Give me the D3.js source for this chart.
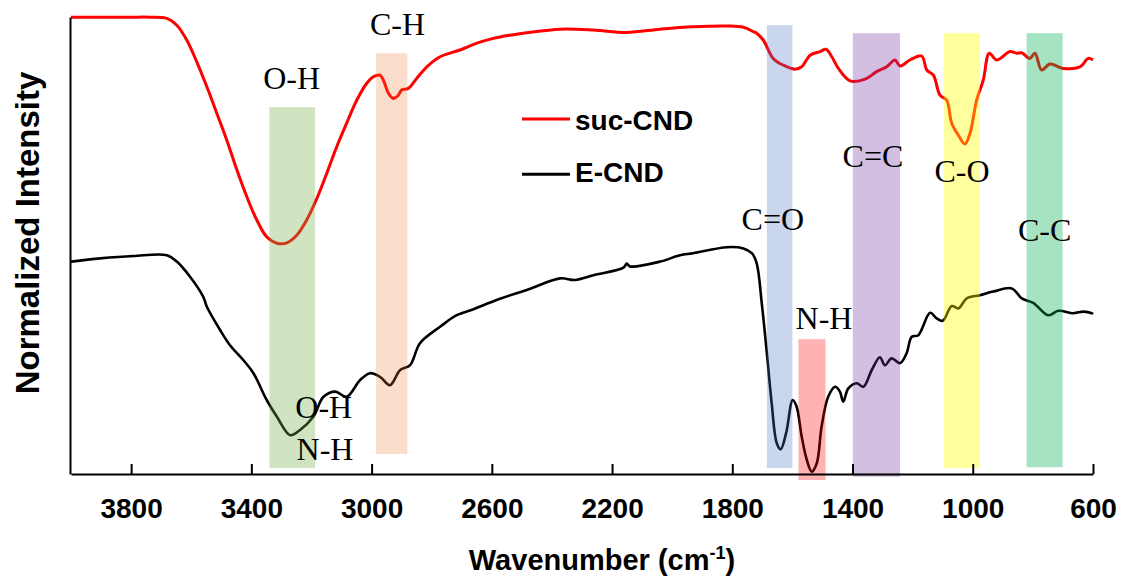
<!DOCTYPE html>
<html>
<head>
<meta charset="utf-8">
<script src="https://cdn.jsdelivr.net/npm/d3@7"></script>
<style>
  html, body { margin: 0; padding: 0; background: #ffffff; }
  svg { display: block; }
</style>
</head>
<body>
<svg id="chart" width="1124" height="577"></svg>
<script>
// FTIR spectra: wavenumber (cm-1) and normalized intensity (a.u.)
const sucWavenumber = [4000, 3903, 3803, 3737, 3681, 3648, 3615, 3582, 3548, 3515, 3482, 3448, 3415, 3382, 3349, 3315, 3282, 3249, 3216, 3182, 3149, 3116, 3083, 3049, 3016, 2994, 2972, 2961, 2944, 2928, 2911, 2900, 2878, 2850, 2816, 2772, 2706, 2650, 2595, 2539, 2484, 2373, 2262, 2151, 2040, 1930, 1818, 1763, 1730, 1719, 1697, 1664, 1630, 1591, 1569, 1541, 1508, 1488, 1469, 1447, 1408, 1358, 1320, 1286, 1259, 1242, 1209, 1170, 1153, 1131, 1109, 1087, 1070, 1048, 1026, 1009, 987, 965, 945, 920, 876, 854, 837, 810, 793, 771, 743, 699, 643, 616, 600];
const sucIntensity = [114.2, 114.2, 114.2, 114.2, 113.9, 112.2, 108.5, 103.1, 96.8, 90.2, 83.5, 76.0, 69.3, 63.5, 59.3, 57.7, 57.8, 59.7, 63.5, 68.9, 75.2, 81.8, 87.7, 93.5, 97.7, 99.3, 99.7, 98.5, 95.2, 93.9, 94.7, 96.0, 96.4, 98.9, 101.8, 104.3, 106.0, 107.7, 108.9, 109.7, 110.3, 111.2, 111.0, 110.4, 111.2, 111.8, 112.0, 111.7, 110.6, 110.2, 108.5, 103.9, 102.2, 101.2, 101.8, 104.7, 105.6, 106.2, 104.3, 101.4, 98.3, 98.7, 100.6, 101.8, 103.5, 102.0, 103.5, 104.5, 101.0, 99.7, 94.7, 93.5, 87.7, 84.7, 82.5, 85.2, 93.5, 98.5, 105.2, 103.5, 105.6, 105.2, 105.3, 103.9, 105.2, 101.0, 102.5, 101.4, 101.8, 103.9, 103.5];

const eWavenumber = [4000, 3903, 3792, 3681, 3648, 3604, 3560, 3548, 3504, 3471, 3427, 3393, 3349, 3315, 3271, 3238, 3194, 3160, 3121, 3083, 3038, 3005, 2972, 2939, 2905, 2872, 2839, 2772, 2717, 2661, 2584, 2484, 2373, 2323, 2262, 2162, 2151, 2140, 2040, 1974, 1930, 1818, 1763, 1735, 1719, 1702, 1685, 1669, 1652, 1639, 1621, 1599, 1586, 1569, 1552, 1536, 1519, 1503, 1481, 1458, 1442, 1431, 1414, 1386, 1364, 1336, 1309, 1292, 1270, 1242, 1220, 1203, 1181, 1142, 1120, 1100, 1070, 1048, 1020, 976, 932, 870, 837, 799, 749, 715, 666, 632, 604, 600];
const eIntensity = [53.1, 53.9, 54.5, 54.7, 53.1, 49.3, 44.3, 41.8, 36.0, 32.2, 28.5, 25.2, 18.5, 14.3, 9.7, 11.0, 14.3, 19.3, 20.6, 19.3, 23.5, 25.2, 24.3, 22.2, 26.0, 27.2, 32.7, 36.8, 39.7, 41.2, 43.5, 46.0, 48.9, 48.5, 49.7, 51.6, 52.6, 51.9, 53.1, 54.7, 55.2, 56.7, 56.4, 55.2, 52.7, 42.7, 30.2, 17.7, 7.7, 6.2, 10.2, 18.5, 16.8, 9.3, 3.5, 0.6, 2.7, 11.8, 19.3, 21.8, 20.6, 18.1, 21.4, 22.7, 21.8, 26.0, 29.2, 27.2, 28.9, 27.7, 30.2, 34.3, 34.7, 40.3, 38.9, 38.3, 42.0, 41.4, 43.9, 44.7, 45.6, 46.4, 43.9, 42.8, 39.7, 40.8, 40.2, 40.6, 40.2, 40.0];

const seriesNames = ["suc-CND", "E-CND"];
const seriesColors = ["#ff0000", "#000000"];

const xTickValues = [3800, 3400, 3000, 2600, 2200, 1800, 1400, 1000, 600];

// Assigned band regions: wavenumber span and intensity span
const bandLabels = ["O-H", "C-H", "C=O", "N-H", "C=C", "C-O", "C-C"];
const bandFrom   = [3340, 2985, 1685, 1580, 1399, 1097, 821];
const bandTo     = [3188, 2881, 1600, 1490, 1242, 976, 701];
const bandLow    = [1.5, 5, 1.5, -1.5, -0.7, 1.5, 1.7];
const bandHigh   = [91.7, 105.2, 112.2, 33.7, 110.2, 110.2, 110.2];
const bandColors = ["#70ad47", "#ed7d31", "#4472c4", "#ff0000", "#7030a0", "#ffff00", "#00b050"];
const bandAlpha  = [0.33, 0.25, 0.29, 0.3, 0.31, 0.38, 0.35];

// Peak assignment texts anchored at (wavenumber, intensity)
const noteText = ["O-H", "C-H", "C=O", "C=C", "C-O", "C-C", "N-H", "O-H", "N-H"];
const noteWave = [3266, 2914, 1665, 1332, 1036, 761, 1495, 3159, 3155];
const noteInt  = [96.2, 109.7, 61.0, 76.8, 72.9, 58.3, 36.2, 13.9, 3.5];

const svg = d3.select("#chart");

const x = d3.scaleLinear().domain([4000, 600]).range([71, 1093]);
const y = d3.scaleLinear().domain([0, 114.25]).range([474, 17]);

const sansBold = "'Liberation Sans', Arial, sans-serif";
const serif = "'Liberation Serif', 'Times New Roman', serif";

// Spectra
const line = d3.line()
  .x(d => x(d[0]))
  .y(d => y(d[1]))
  .curve(d3.curveCatmullRom.alpha(0.5));

const sucData = d3.zip(sucWavenumber, sucIntensity);
const eData = d3.zip(eWavenumber, eIntensity);

svg.append("path")
  .datum(eData)
  .attr("d", line)
  .attr("fill", "none")
  .attr("stroke", seriesColors[1])
  .attr("stroke-width", 2.6)
  .attr("stroke-linejoin", "round");

svg.append("path")
  .datum(sucData)
  .attr("d", line)
  .attr("fill", "none")
  .attr("stroke", seriesColors[0])
  .attr("stroke-width", 3)
  .attr("stroke-linejoin", "round");

// Translucent band highlights over the spectra
svg.append("g")
  .selectAll("rect")
  .data(bandLabels.map((b, i) => i))
  .join("rect")
  .attr("x", i => x(bandFrom[i]))
  .attr("width", i => x(bandTo[i]) - x(bandFrom[i]))
  .attr("y", i => y(bandHigh[i]))
  .attr("height", i => y(bandLow[i]) - y(bandHigh[i]))
  .attr("fill", i => bandColors[i])
  .attr("fill-opacity", i => bandAlpha[i]);

// Axes
const xAxis = d3.axisBottom(x)
  .tickValues(xTickValues)
  .tickFormat(d3.format("d"))
  .tickSizeInner(-10)
  .tickSizeOuter(0)
  .tickPadding(24);

const gx = svg.append("g")
  .attr("transform", `translate(0,${y(0)})`)
  .call(xAxis);
gx.select(".domain").attr("stroke", "#000").attr("stroke-width", 2);
gx.selectAll(".tick line").attr("stroke", "#000").attr("stroke-width", 2);
gx.selectAll(".tick text")
  .attr("fill", "#000")
  .style("font-family", sansBold)
  .style("font-weight", "bold")
  .style("font-size", "28px");

const gy = svg.append("g")
  .attr("transform", `translate(${x(4000) - 1},0)`)
  .call(d3.axisLeft(y).tickValues([]).tickSizeOuter(0));
gy.select(".domain").attr("stroke", "#000").attr("stroke-width", 2);

// Axis titles
const xt = svg.append("text")
  .attr("x", 602)
  .attr("y", 570)
  .attr("text-anchor", "middle")
  .style("font-family", sansBold)
  .style("font-weight", "bold")
  .style("font-size", "29px")
  .attr("fill", "#000");
xt.append("tspan").text("Wavenumber (cm");
xt.append("tspan").attr("dy", -11).style("font-size", "18px").text("-1");
xt.append("tspan").attr("dy", 11).text(")");

svg.append("text")
  .attr("transform", "translate(38.5,233) rotate(-90)")
  .attr("text-anchor", "middle")
  .style("font-family", sansBold)
  .style("font-weight", "bold")
  .style("font-size", "33px")
  .attr("fill", "#000")
  .text("Normalized Intensity");

// Assignment labels
svg.append("g")
  .selectAll("text")
  .data(noteText.map((t, i) => i))
  .join("text")
  .attr("x", i => x(noteWave[i]))
  .attr("y", i => y(noteInt[i]))
  .attr("text-anchor", "middle")
  .style("font-family", serif)
  .style("font-size", "32px")
  .attr("fill", "#000")
  .text(i => noteText[i]);

// Legend
const legend = svg.append("g").attr("transform", "translate(522,119)");
seriesNames.forEach((name, i) => {
  const row = legend.append("g").attr("transform", `translate(0,${i * 55.3})`);
  row.append("line")
    .attr("x1", 0).attr("x2", 48)
    .attr("y1", 0).attr("y2", 0)
    .attr("stroke", seriesColors[i])
    .attr("stroke-width", 3);
  row.append("text")
    .attr("x", 53)
    .attr("y", i === 0 ? 11 : 8)
    .style("font-family", sansBold)
    .style("font-weight", "bold")
    .style("font-size", "28px")
    .attr("fill", "#000")
    .text(name);
});
</script>
</body>
</html>
